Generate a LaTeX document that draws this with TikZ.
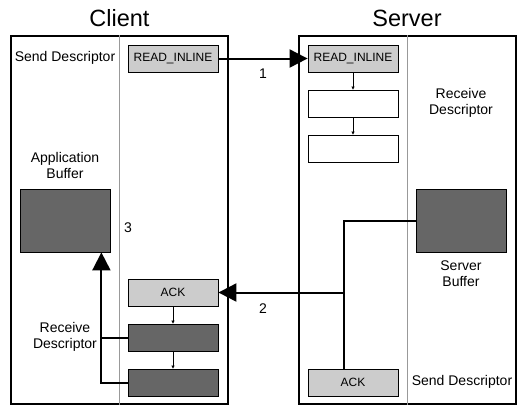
\documentclass[tikz,border=0pt]{standalone}
\usepackage{fontspec}
\setmainfont{Liberation Sans}
\usetikzlibrary{arrows.meta,positioning}
\definecolor{lightbox}{HTML}{CCCCCC}
\definecolor{darkbox}{HTML}{666666}
\definecolor{divider}{HTML}{999999}
\begin{document}
\begin{tikzpicture}[
x=1pt,y=-1pt,
frame/.style={draw,line width=2pt,minimum width=217pt,minimum height=368pt,inner sep=0pt},
msg/.style={draw,line width=0.8pt,minimum width=90pt,minimum height=27pt,inner sep=0pt,font=\fontsize{12}{14}\selectfont},
buffer/.style={draw,line width=0.8pt,fill=darkbox,minimum width=90pt,minimum height=63pt,inner sep=0pt},
label/.style={align=center,inner sep=0pt,font=\fontsize{14}{16}\selectfont},
title/.style={inner sep=0pt,font=\fontsize{23.5}{26}\selectfont},
conn/.style={line width=2pt},
bigarrow/.style={conn,-{Triangle[length=18pt,width=18pt]}},
step arrow/.style={line width=0.7pt,-{Triangle[length=3pt,width=3pt]}}
]
\useasboundingbox (0,0) rectangle (526,416);

% client side
\node[title] (ctitle) at (119.5,18) {Client};
\node[frame] (client) at (119.5,220) {};
\draw[divider,line width=1pt] (client.north) -- (client.south);
\node[label] (csend) at (65,58) {Send Descriptor};
\node[label] (capp) at (65,165) {Application\\Buffer};
\node[label] (crecv) at (65,337) {Receive\\Descriptor};
\node[buffer] (abuf) at (65,220.5) {};
\node[msg,fill=lightbox] (cread) at (173,58.5) {READ\_INLINE};
\node[msg,fill=lightbox] (cack) at (173,292.5) {ACK};
\node[msg,fill=darkbox] (crone) at (173,337.5) {};
\node[msg,fill=darkbox] (crtwo) at (173,382.5) {};

% server side
\node[title] (stitle) at (407,18) {Server};
\node[frame] (server) at (407,220) {};
\draw[divider,line width=1pt] (server.north) -- (server.south);
\node[label] (srecv) at (461,103) {Receive\\Descriptor};
\node[label] (sbuflabel) at (461,273.5) {Server\\Buffer};
\node[label] (ssend) at (462,382) {Send Descriptor};
\node[buffer] (sbuf) at (461,220.5) {};
\node[msg,fill=lightbox] (sread) at (353,58.5) {READ\_INLINE};
\node[msg,fill=white] (sone) at (353,103.5) {};
\node[msg,fill=white] (stwo) at (353,148.5) {};
\node[msg,fill=lightbox] (sack) at (353,382.5) {ACK};

% steps
\node[label] (one) at (263,74) {1};
\node[label] (two) at (263,309) {2};
\node[label] (three) at (128,228) {3};

% connectors
\draw[bigarrow] (cread) -- (sread);
\draw[step arrow] (sread) -- (sone);
\draw[step arrow] (sone) -- (stwo);
\coordinate (ackup) at ([xshift=-9pt]sack.north);
\draw[conn] (sbuf.west) -| (ackup);
\coordinate (ackjoin) at (ackup |- cack.east);
\draw[bigarrow] (ackjoin) -- (cack.east);
\draw[step arrow] (cack) -- (crone);
\draw[step arrow] (crone) -- (crtwo);
\coordinate (upline) at ([xshift=-9pt]abuf.south east);
\draw[conn] (crone.west) -- (upline |- crone.west);
\draw[bigarrow] (crtwo.west) -| (upline);
\end{tikzpicture}
\end{document}
